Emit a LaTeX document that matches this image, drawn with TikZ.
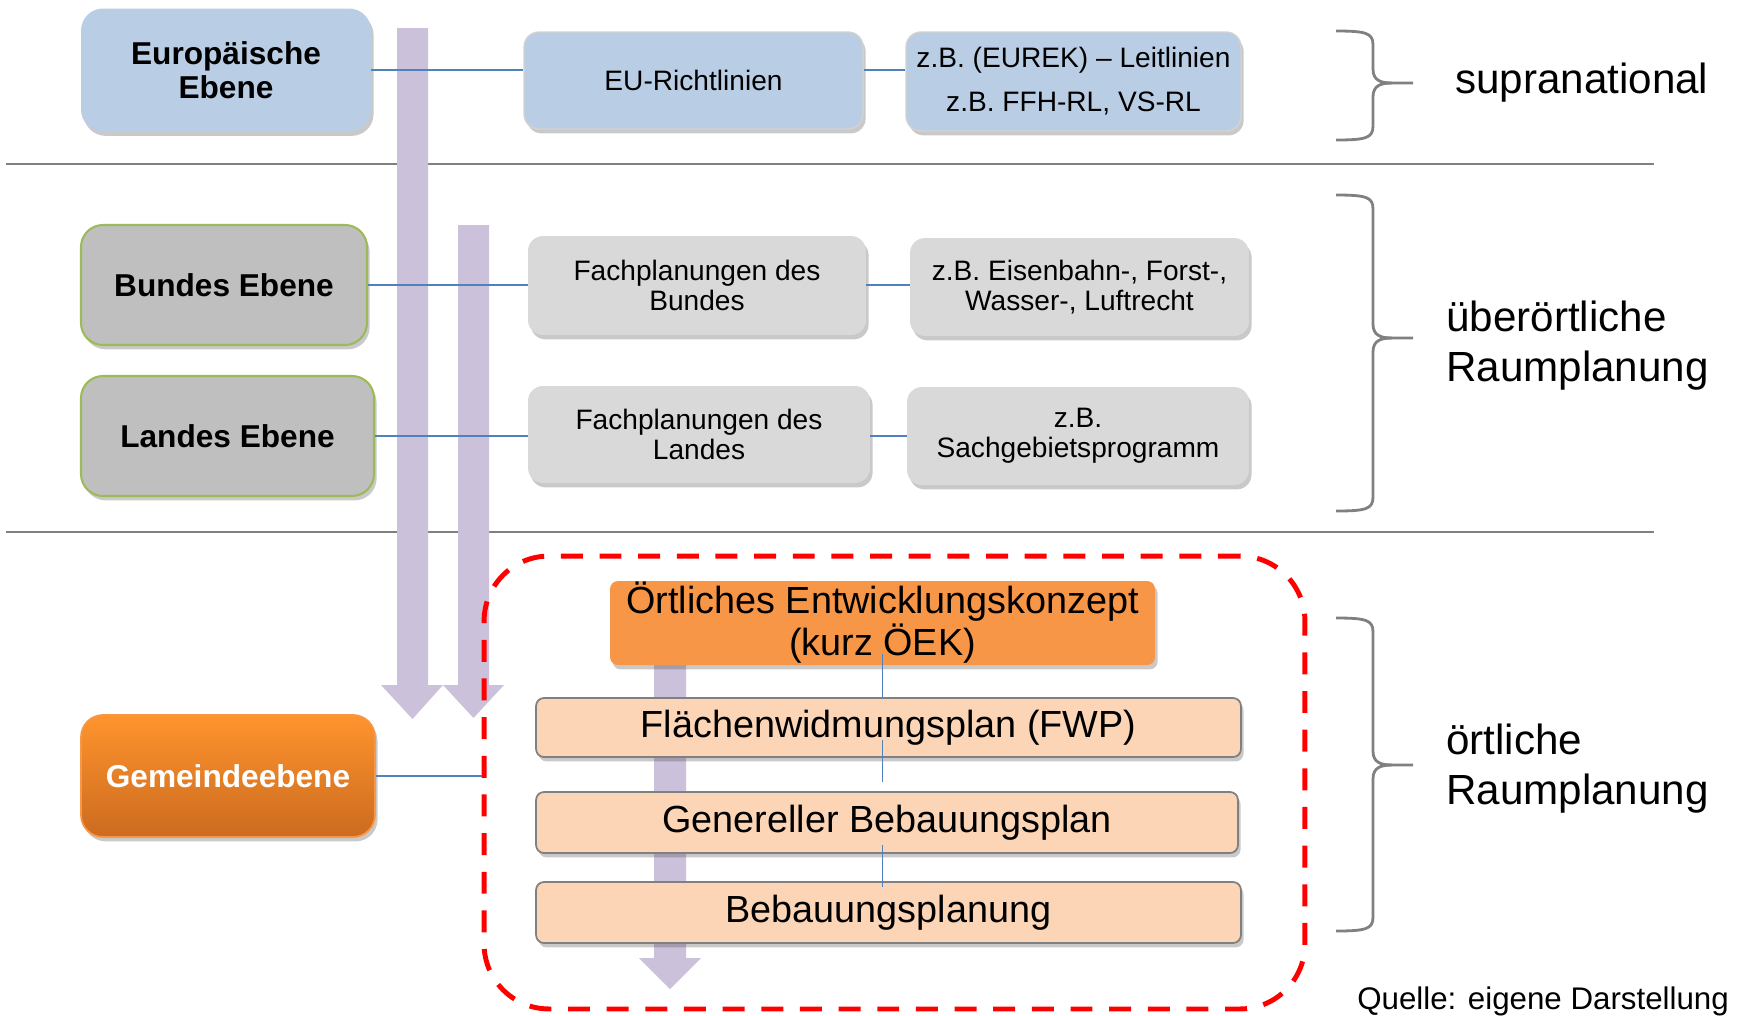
\documentclass[tikz,border=0pt]{standalone}
\usepackage{fontspec}
\setmainfont{Liberation Sans}
\usetikzlibrary{shadows,calc}

\definecolor{ebeneblau}{HTML}{B9CDE5}
\definecolor{ebenegrau}{HTML}{BFBFBF}
\definecolor{hellgrau}{HTML}{D9D9D9}
\definecolor{rahmengruen}{HTML}{9BBB59}
\definecolor{linienblau}{HTML}{4F81BD}
\definecolor{pfeillila}{HTML}{CCC1DA}
\definecolor{oekorange}{HTML}{F79646}
\definecolor{gemoben}{HTML}{FF942E}
\definecolor{gemunten}{HTML}{CC6B1F}
\definecolor{planpfirsich}{HTML}{FBD5B5}
\definecolor{klammergrau}{HTML}{808080}

\tikzset{
  schatten/.style={drop shadow={shadow xshift=1.5pt,shadow yshift=-2.5pt,opacity=0.3,fill=black!70}},
  ebene/.style={rounded corners=12.5pt,align=center,inner sep=0pt,font=\fontsize{18}{19}\selectfont\bfseries,schatten},
  info/.style={rounded corners=8.5pt,align=center,inner sep=0pt,font=\fontsize{16}{17}\selectfont,schatten},
  plan/.style={rounded corners=4.5pt,align=center,inner sep=0pt,font=\fontsize{21.5}{24}\selectfont,fill=planpfirsich,draw=gray,line width=1pt,schatten},
  verbindung/.style={linienblau,line width=1.1pt},
  pfeil/.style={fill=pfeillila},
  klammer/.style={klammergrau,line width=1.6pt},
  trenner/.style={gray,line width=0.9pt},
}

\begin{document}
\begin{tikzpicture}[x=0.02cm,y=-0.02cm]
  \useasboundingbox (0,0) rectangle (1738,1015);

  % Trennlinien
  \draw[trenner] (6,164) -- (1654,164);
  \draw[trenner] (6,532) -- (1654,532);

  % Pfeile
  \fill[pfeil] (397,28) -- (428,28) -- (428,685) -- (443,685) -- (412.5,719) -- (381,685) -- (397,685) -- cycle;
  \fill[pfeil] (458,225) -- (489,225) -- (489,685) -- (504,685) -- (473.5,718) -- (443,685) -- (458,685) -- cycle;
  \fill[pfeil] (654,640) -- (686,640) -- (686,958) -- (701,958) -- (670,989) -- (639,958) -- (654,958) -- cycle;

  % Ebenen
  \node[ebene, fill=ebeneblau, minimum width=5.8cm, minimum height=2.46cm] (euro) at (226,70) {Europäische\\Ebene};
  \node[ebene, fill=ebenegrau, draw=rahmengruen, line width=1.2pt, minimum width=5.72cm, minimum height=2.4cm] (bund) at (224,285) {Bundes Ebene};
  \node[ebene, fill=ebenegrau, draw=rahmengruen, line width=1.2pt, minimum width=5.86cm, minimum height=2.4cm] (land) at (227.5,436) {Landes Ebene};
  \node[ebene, top color=gemoben, bottom color=gemunten, draw=oekorange, line width=1pt, text=white, minimum width=5.88cm, minimum height=2.44cm] (gem) at (228,776) {Gemeindeebene};

  % Planungen
  \node[info, fill=ebeneblau, draw=gray!35, line width=0.8pt, minimum width=6.78cm, minimum height=1.94cm] (eurl) at (693.5,80.5) {EU-Richtlinien};
  \node[info, fill=ebeneblau, draw=gray!35, line width=0.8pt, minimum width=6.7cm, minimum height=1.98cm] (eubsp) at (1073.5,81.5) {z.B. (EUREK) – Leitlinien\\[8pt]z.B. FFH-RL, VS-RL};
  \node[info, fill=hellgrau, minimum width=6.76cm, minimum height=1.98cm] (fbund) at (697,285.5) {Fachplanungen des\\Bundes};
  \node[info, fill=hellgrau, minimum width=6.78cm, minimum height=1.96cm] (bbsp) at (1079.5,287) {z.B. Eisenbahn-, Forst-,\\Wasser-, Luftrecht};
  \node[info, fill=hellgrau, minimum width=6.84cm, minimum height=1.94cm] (fland) at (699,434.5) {Fachplanungen des\\Landes};
  \node[info, fill=hellgrau, minimum width=6.84cm, minimum height=1.96cm] (lbsp) at (1078,436) {z.B.\\Sachgebietsprogramm};

  % oertliche Ebene
  \node[draw=red, dash pattern=on 12.5pt off 9.5pt, line width=2.8pt, rounded corners=37pt, minimum width=16.42cm, minimum height=9.06cm] (ort) at (894.5,782.5) {};
  \node[rounded corners=4.5pt, align=center, inner sep=0pt, font=\fontsize{21.5}{24}\selectfont, fill=oekorange, schatten, minimum width=10.9cm, minimum height=1.68cm] (oek) at (882.5,623) {Örtliches Entwicklungskonzept\\(kurz ÖEK)};
  \node[plan, minimum width=14.1cm, minimum height=1.18cm] (fwp) at (888.5,727.5) {Flächenwidmungsplan (FWP)};
  \node[plan, minimum width=14.04cm, minimum height=1.22cm] (gbp) at (887,822.5) {Genereller Bebauungsplan};
  \node[plan, minimum width=14.1cm, minimum height=1.22cm] (bbp) at (888.5,912.5) {Bebauungsplanung};

  % Verbindungen
  \draw[verbindung] (euro.east) -- (euro.east -| eurl.west);
  \draw[verbindung] (euro.east -| eurl.east) -- (euro.east -| eubsp.west);
  \draw[verbindung] (bund.east) -- (bund.east -| fbund.west);
  \draw[verbindung] (bund.east -| fbund.east) -- (bund.east -| bbsp.west);
  \draw[verbindung] (land.east) -- (land.east -| fland.west);
  \draw[verbindung] (land.east -| fland.east) -- (land.east -| lbsp.west);
  \draw[verbindung] (gem.east) -- (gem.east -| ort.west);
  \draw[verbindung, line width=0.7pt] ($(oek.south)+(0,-11)$) -- (oek.south |- fwp.north);
  \draw[verbindung, line width=0.7pt] ($(oek.south |- fwp.south)+(0,-18)$) -- ($(oek.south |- gbp.north)+(0,-9)$);
  \draw[verbindung, line width=0.7pt] ($(oek.south |- gbp.south)+(0,-9)$) -- ($(oek.south |- bbp.north)+(0,6)$);

  % Klammern
  \foreach \t/\m/\b in {31/83/140, 195/338/511, 618/765/931}{
    \draw[klammer] (1336,\t) .. controls (1366,\t) and (1373,\t+2) .. (1373,\t+14) -- (1373,\m-14) .. controls (1373,\m-3) and (1380,\m) .. (1392,\m) -- (1413,\m);
    \draw[klammer] (1336,\b) .. controls (1366,\b) and (1373,\b-2) .. (1373,\b-14) -- (1373,\m+14) .. controls (1373,\m+3) and (1380,\m) .. (1392,\m);
  }
  \node[anchor=west, font=\fontsize{24}{28.5}\selectfont] (supra) at (1449,83) {supranational};
  \node[anchor=west, align=left, font=\fontsize{24}{28.5}\selectfont] (ueber) at (1440,346) {überörtliche\\Raumplanung};
  \node[anchor=west, align=left, font=\fontsize{24}{28.5}\selectfont] (oert) at (1440,769) {örtliche\\Raumplanung};

  \node[anchor=east, font=\fontsize{17.8}{19}\selectfont] (quelle) at (1735,1001) {Quelle: eigene Darstellung};
\end{tikzpicture}
\end{document}
